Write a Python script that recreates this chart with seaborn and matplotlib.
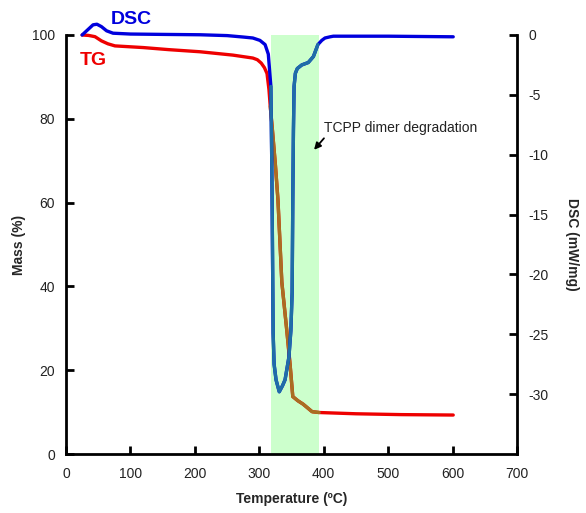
import matplotlib
matplotlib.use("Agg")
import matplotlib.pyplot as plt
import seaborn as sns
import pandas as pd

# ---- data ----
tg_temp = [25, 35, 45, 55, 65, 76, 120, 160, 208, 259, 290, 297, 303, 308, 312, 315, 317,
           320, 325, 329, 335, 343, 348, 352, 360, 368, 382, 393, 450, 520, 601]
tg_mass = [100, 99.9, 99.6, 98.6, 97.9, 97.4, 97.0, 96.5, 96.0, 95.2, 94.5, 94.1, 93.3, 92.2, 90.8, 87, 83,
           78, 69, 60.6, 41, 29, 21, 13.7, 12.7, 11.9, 10.1, 9.9, 9.6, 9.4, 9.3]

dsc_temp = [25, 35, 42, 48, 55, 63, 73, 100, 150, 208, 250, 275, 290, 301, 309, 314, 318,
            319.5, 320.5, 321.5, 323, 326, 331, 336, 340, 346, 349, 351, 352, 353, 354, 356,
            359, 366, 376, 384, 391, 397, 402, 410, 415, 500, 601]
dsc_val = [0, 0.5, 0.85, 0.9, 0.7, 0.35, 0.15, 0.08, 0.05, 0.02, -0.05, -0.17, -0.25, -0.45,
           -0.8, -1.6, -4.3, -11.3, -18, -24.9, -27.5, -28.8, -29.8, -29.3, -28.8, -26.9,
           -24.7, -21.5, -13.8, -8, -4.3, -3.2, -2.8, -2.5, -2.3, -1.8, -0.8, -0.45, -0.25,
           -0.15, -0.1, -0.1, -0.15]

band = (318, 393)
x_ticks = [0, 100, 200, 300, 400, 500, 600, 700]
mass_ticks = [0, 20, 40, 60, 80, 100]
dsc_ticks = [0, -5, -10, -15, -20, -25, -30]

tg_df = pd.DataFrame({"T": tg_temp, "M": tg_mass})
dsc_df = pd.DataFrame({"T": dsc_temp, "D": dsc_val})

sns.set_style("white")
plt.rcParams["font.family"] = ["Liberation Sans", "DejaVu Sans"]

fig = plt.figure(figsize=(5.86, 5.13), dpi=100)
ax = fig.add_axes([66 / 586, 1 - 454 / 513, (517 - 66) / 586, (454 - 35) / 513])
ax2 = ax.twinx()

ax.axvspan(band[0], band[1], color="#ccffcc", zorder=0, lw=0)

lw = 2.4
sns.lineplot(data=tg_df, x="T", y="M", ax=ax, color="#ee0000", lw=lw,
             estimator=None, sort=False, zorder=3, clip_on=False)
sns.lineplot(data=dsc_df, x="T", y="D", ax=ax2, color="#0000dd", lw=lw,
             estimator=None, sort=False, zorder=3, clip_on=False)

# tinted portions inside the shaded band
tg_in = tg_df[(tg_df["T"] >= band[0] - 1) & (tg_df["T"] <= band[1])]
dsc_in = dsc_df[(dsc_df["T"] >= band[0]) & (dsc_df["T"] <= band[1])]
sns.lineplot(data=tg_in, x="T", y="M", ax=ax, color="#a86e22", lw=lw,
             estimator=None, sort=False, zorder=4)
sns.lineplot(data=dsc_in, x="T", y="D", ax=ax2, color="#1f6ea6", lw=lw,
             estimator=None, sort=False, zorder=4)

ax.set_xlim(0, 700)
ax.set_ylim(0, 100)
ax2.set_ylim(-35, 0)
ax.set_xticks(x_ticks)
ax.set_yticks(mass_ticks)
ax2.set_yticks(dsc_ticks)
ax.set_xticklabels([str(v) for v in x_ticks])
ax.set_yticklabels([str(v) for v in mass_ticks])
ax2.set_yticklabels([str(v) for v in dsc_ticks])

for a in (ax, ax2):
    for s in ("left", "right", "bottom"):
        a.spines[s].set_visible(True)
        a.spines[s].set_linewidth(2)
        a.spines[s].set_color("black")
    a.spines["top"].set_visible(False)
    a.set_facecolor("none")
ax.spines["right"].set_visible(False)
ax2.spines["left"].set_visible(False)
ax2.spines["bottom"].set_visible(False)

ax.tick_params(axis="both", direction="in", length=6, width=2, color="black",
               labelsize=10, labelcolor="#222222")
ax.tick_params(axis="x", pad=9, bottom=True)
ax.tick_params(axis="y", pad=8, left=True)
ax2.tick_params(axis="y", direction="in", length=6, width=2, color="black",
                labelsize=10, labelcolor="#222222", pad=8, right=True)

ax.set_xlabel("Temperature (ºC)", fontsize=10, fontweight="bold", labelpad=8)
ax.set_ylabel("Mass (%)", fontsize=10, fontweight="bold", labelpad=4)
ax2.set_ylabel("DSC (mW/mg)", fontsize=10, fontweight="bold", rotation=270, labelpad=22)

ax.text(70, 103.6, "DSC", color="#0000dd", fontsize=14, fontweight="bold",
        va="center", ha="left", clip_on=False, zorder=5)
ax.text(21, 94.0, "TG", color="#ee0000", fontsize=14, fontweight="bold",
        va="center", ha="left", clip_on=False, zorder=5)

ax.annotate("TCPP dimer degradation", xy=(385, 72.6), xytext=(400, 77.8),
            fontsize=10, color="#222222", va="center", ha="left",
            arrowprops=dict(arrowstyle="-|>", color="black", lw=1.3,
                            shrinkA=0, shrinkB=0, mutation_scale=10,
                            relpos=(0.02, 0.0)), zorder=6)

fig.savefig("out.png", dpi=100)
